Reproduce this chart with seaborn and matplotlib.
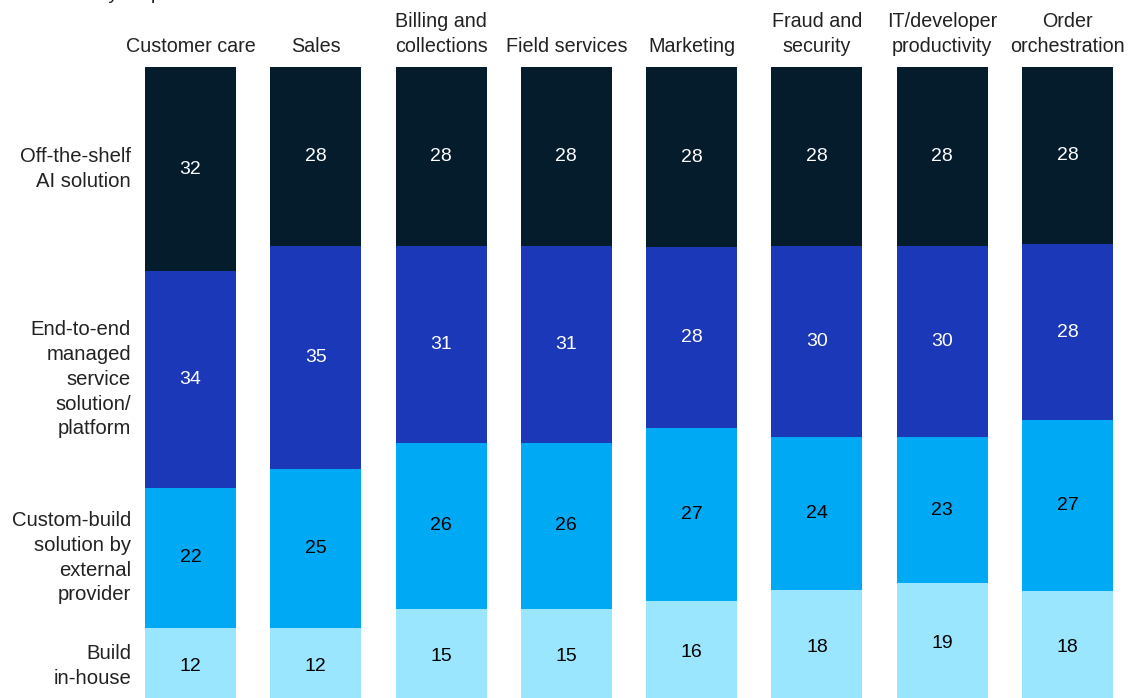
import matplotlib
matplotlib.use("Agg")
import matplotlib.pyplot as plt
import numpy as np
import pandas as pd
import seaborn as sns

# Use-case columns and the share of respondents choosing each sourcing approach
categories = ["Customer care", "Sales", "Billing and\ncollections", "Field services",
              "Marketing", "Fraud and\nsecurity", "IT/developer\nproductivity", "Order\norchestration"]
off_the_shelf = [32, 28, 28, 28, 28, 28, 28, 28]
end_to_end = [34, 35, 31, 31, 28, 30, 30, 28]
custom_build = [22, 25, 26, 26, 27, 24, 23, 27]
build_in_house = [12, 12, 15, 15, 16, 18, 19, 18]

row_labels = ["Off-the-shelf\nAI solution",
              "End-to-end\nmanaged\nservice\nsolution/\nplatform",
              "Custom-build\nsolution by\nexternal\nprovider",
              "Build\nin-house"]
colors = ["#051c2c", "#1b38b8", "#00a9f4", "#9be6ff"]
text_colors = ["white", "white", "black", "black"]

sns.set_theme(style="white")
plt.rcParams["font.family"] = ["Liberation Sans", "DejaVu Sans"]

series = [off_the_shelf, end_to_end, custom_build, build_in_house]
vals = np.array(series, dtype=float)
totals = vals.sum(axis=0)
shares = vals / totals * 100  # each column fills the full height
cum = np.cumsum(shares, axis=0)

W, H = 1136, 698
fig = plt.figure(figsize=(W / 100, H / 100), dpi=100)
left_px, right_px, top_px, bottom_px = 127.9, 1130.1, 67, 704.5
ax = fig.add_axes([left_px / W, 1 - bottom_px / H,
                   (right_px - left_px) / W, (bottom_px - top_px) / H])

# Stack by drawing cumulative heights from the bottom layer up
for k in range(3, -1, -1):
    df = pd.DataFrame({"cat": categories, "val": cum[k]})
    sns.barplot(data=df, x="cat", y="val", ax=ax, color=colors[k],
                width=0.726, saturation=1, linewidth=0, order=categories)

ax.set_ylim(100, 0)
ax.set_xlim(-0.5, len(categories) - 0.5)
ax.set_xlabel("")
ax.set_ylabel("")
ax.set_xticks([])
ax.set_yticks([])
for s in ax.spines.values():
    s.set_visible(False)

# Value labels centered in each segment
for k in range(4):
    starts = cum[k] - shares[k]
    for i in range(len(categories)):
        ax.text(i, starts[i] + shares[k][i] / 2, f"{int(vals[k][i])}",
                ha="center", va="center", fontsize=14, color=text_colors[k])

# Column headers above the bars
for i, c in enumerate(categories):
    ax.annotate(c, xy=(i, 0), xytext=(0, 8), textcoords="offset points",
                ha="center", va="bottom", fontsize=14.2, color="#222222",
                linespacing=1.42, annotation_clip=False)

# Row labels aligned with the first column's segments
starts0 = cum[:, 0] - shares[:, 0]
for k in range(4):
    ax.text(-0.475, starts0[k] + shares[k][0] / 2, row_labels[k],
            ha="right", va="center", fontsize=14.6, color="#222222",
            linespacing=1.38, clip_on=False)

fig.text(16 / W, 1 + 1 / H, "% of survey respondents", ha="left", va="baseline",
         fontsize=14, color="#222222")

fig.savefig("out.png", dpi=100)
